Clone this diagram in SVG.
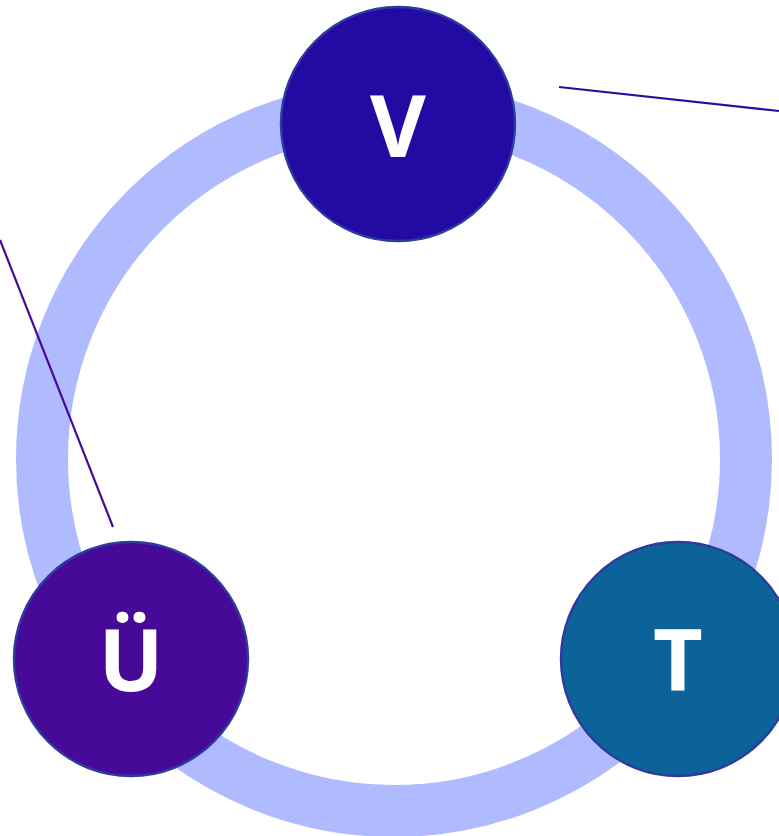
<svg xmlns="http://www.w3.org/2000/svg" width="779" height="836" viewBox="0 0 779 836">
<style>
.node circle{stroke:#2e3a9e;stroke-width:2.4}
.node text{font-family:"Open Sans","DejaVu Sans",sans-serif;font-weight:700;font-size:86px;fill:#ffffff;text-anchor:middle}
.conn line{stroke-width:2.2;fill:none}
</style>
<rect width="779" height="836" fill="#ffffff"/>
<g id="ring">
<circle cx="394" cy="459" r="352" fill="none" stroke="#b0baff" stroke-width="52"/>
</g>
<g id="connectors" class="conn">
<line x1="559" y1="87" x2="779" y2="111" stroke="#2a0ca0"/>
<line x1="0" y1="240" x2="113" y2="527" stroke="#470a98"/>
</g>
<g id="node-v" class="node">
<circle cx="398" cy="124" r="117" fill="#220aa3"/>
<text x="398" y="157">V</text>
</g>
<g id="node-u" class="node">
<circle cx="131" cy="659" r="117" fill="#470a98"/>
<text x="131" y="691">Ü</text>
</g>
<g id="node-t" class="node">
<circle cx="678" cy="659" r="117" fill="#0b6399"/>
<text x="678" y="691">T</text>
</g>
</svg>
